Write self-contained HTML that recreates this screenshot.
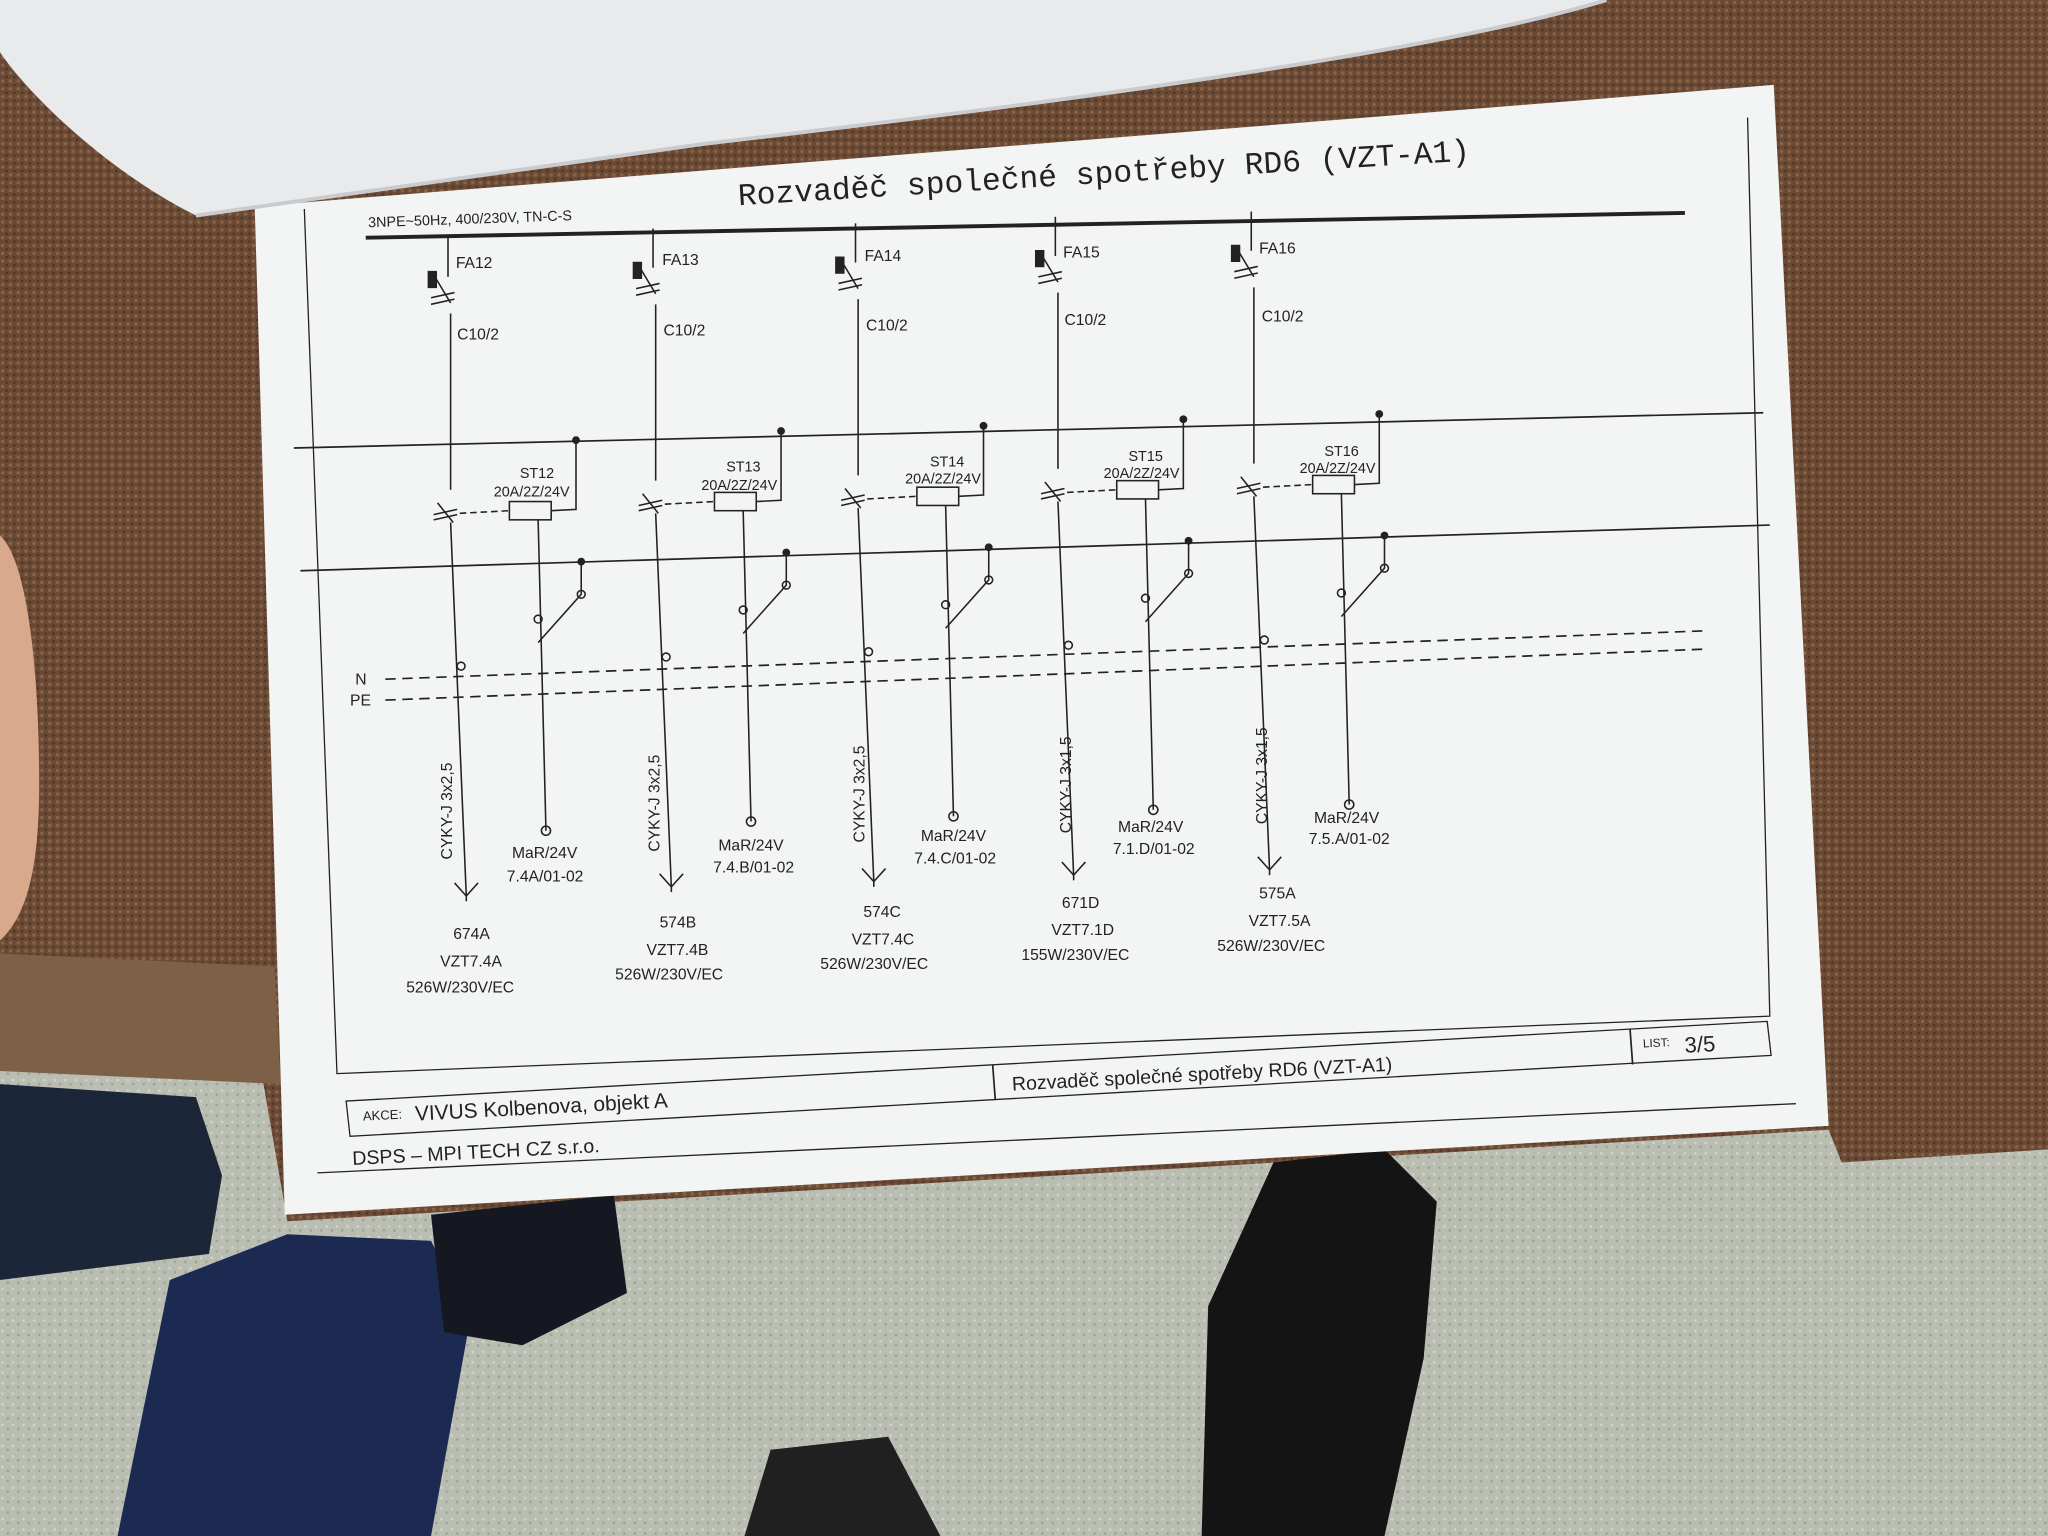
<!DOCTYPE html>
<html><head><meta charset="utf-8"><style>
html,body{margin:0;padding:0;width:2048px;height:1536px;overflow:hidden;background:#6a4a36}
svg{display:block}
text{font-family:"Liberation Sans",sans-serif;fill:#222}
</style></head><body>
<svg width="2048" height="1536" viewBox="0 0 1568 1176" preserveAspectRatio="none" xmlns="http://www.w3.org/2000/svg">
<defs>
<pattern id="carpet" width="6" height="6" patternUnits="userSpaceOnUse">
<rect width="6" height="6" fill="#6b4a35"/><circle cx="2" cy="2" r="1.3" fill="#8a6448"/><circle cx="5" cy="5" r="1" fill="#4e3424"/>
</pattern>
<pattern id="tile" width="8" height="8" patternUnits="userSpaceOnUse">
<rect width="8" height="8" fill="#b9bdb2"/><circle cx="2" cy="3" r="1" fill="#d2d5cc"/><circle cx="6" cy="6" r="1" fill="#9ea295"/>
</pattern>
</defs>
<rect width="1568" height="1176" fill="url(#carpet)"/>
<polygon points="0,820 200,820 220,935 1400,865 1410,890 1568,880 1568,1176 0,1176" fill="url(#tile)"/>
<polygon points="0,730 210,740 215,830 0,820" fill="#7d6048"/>
<path d="M0,830 L150,840 L170,900 L160,960 L0,980 Z" fill="#1b2638"/>
<path d="M90,1176 L130,980 L220,945 L330,950 L360,1010 L330,1176 Z" fill="#1c2a52"/>
<path d="M330,930 L470,915 L480,990 L400,1030 L340,1020 Z" fill="#151820"/>
<path d="M920,1176 L925,1000 L975,890 L1060,880 L1100,920 L1090,1040 L1060,1176 Z" fill="#141414"/>
<path d="M570,1176 L590,1110 L680,1100 L720,1176 Z" fill="#202020"/>
<path d="M0,410 C22,430 30,520 30,600 C30,660 22,700 0,720 Z" fill="#d9a98c"/>
<polygon points="195,158 1358,65 1400,862 218,930" fill="#f3f4f4"/>
<path d="M0,0 L1230,0 C1100,40 800,80 540,110 C400,130 250,150 150,165 C80,130 20,70 0,40 Z" fill="#e9eaec"/>
<path d="M150,165 C250,150 400,130 540,110 C800,80 1100,40 1230,0" fill="none" stroke="#c9cbcf" stroke-width="3"/>
<g stroke="#222" fill="none" stroke-width="1.3">
<polyline points="233,160 258,822 1355,778 1338,90" stroke-width="1"/>
<polyline points="243,898 1375,845" stroke-width="1"/>
<polygon points="265,843 1353,782 1356,808 268,870" stroke-width="1"/>
<line x1="760" y1="815" x2="762" y2="842"/>
<line x1="1248" y1="788" x2="1250" y2="815"/>
<line x1="280" y1="182" x2="1290" y2="163" stroke-width="3"/>
<line x1="225" y1="343" x2="1350" y2="316"/>
<line x1="230" y1="437" x2="1355" y2="402"/>
<line x1="295" y1="520" x2="1305" y2="483" stroke-dasharray="8,5"/>
<line x1="295" y1="536" x2="1305" y2="497" stroke-dasharray="8,5"/>
</g>
<text x="845" y="140" font-size="24" text-anchor="middle" transform="rotate(-3.5 845 130)" style="font-family:'Liberation Mono',monospace">Rozvaděč společné spotřeby RD6 (VZT-A1)</text>
<text x="282" y="174" font-size="11" transform="rotate(-2 282 174)">3NPE~50Hz, 400/230V, TN-C-S</text>
<text x="272" y="524" font-size="12">N</text>
<text x="268" y="540" font-size="12">PE</text>
<text x="278" y="858" font-size="10" transform="rotate(-3 278 858)">AKCE:</text>
<text x="318" y="858" font-size="16" transform="rotate(-3 318 858)">VIVUS Kolbenova, objekt A</text>
<text x="775" y="835" font-size="15" transform="rotate(-3 775 835)">Rozvaděč společné spotřeby RD6 (VZT-A1)</text>
<text x="1258" y="802" font-size="9" transform="rotate(-3 1258 802)">LIST:</text>
<text x="1290" y="806" font-size="17" transform="rotate(-3 1290 806)">3/5</text>
<text x="270" y="892" font-size="15" transform="rotate(-3 270 892)">DSPS – MPI TECH CZ s.r.o.</text>
<g id="cols">
<g stroke="#222" fill="none" stroke-width="1.2">
<line x1="343" y1="182" x2="343" y2="212"/><line x1="333" y1="212" x2="345" y2="232"/><line x1="345" y1="240" x2="345" y2="375"/>
<rect x="328" y="208" width="6" height="12" fill="#222"/>
<line x1="330" y1="228" x2="348" y2="224"/><line x1="330" y1="233" x2="348" y2="229"/>
<line x1="335" y1="385" x2="347" y2="400"/><line x1="345" y1="400" x2="357" y2="686"/>
<line x1="332" y1="394" x2="350" y2="390"/><line x1="332" y1="398" x2="350" y2="394"/>
<line x1="352" y1="393" x2="390" y2="391" stroke-dasharray="5,3"/>
<rect x="390" y="384" width="32" height="14"/>
<polyline points="422,391 441,390 441,337"/>
<line x1="412" y1="398" x2="418" y2="636"/>
<polyline points="445,430 445,455 412,492"/>
<circle cx="418" cy="636" r="3.5"/><circle cx="445" cy="455" r="3"/><circle cx="412" cy="474" r="3"/><circle cx="353" cy="510" r="3"/>
<polyline points="348,676 357,686 366,676"/><line x1="357" y1="686" x2="357" y2="690"/>
</g>
<circle cx="441" cy="337" r="3" fill="#222"/><circle cx="445" cy="430" r="3" fill="#222"/>
</g>
<use href="#cols" transform="translate(157,-7)"/>
<use href="#cols" transform="translate(312,-11)"/>
<use href="#cols" transform="translate(465,-16)"/>
<use href="#cols" transform="translate(615,-20)"/>
<g font-size="12">
<text x="349" y="205">FA12</text><text x="350" y="260">C10/2</text>
<text x="398" y="366" font-size="11">ST12</text><text x="378" y="380" font-size="11">20A/2Z/24V</text>
<text x="392" y="657">MaR/24V</text><text x="388" y="675">7.4A/01-02</text>
<text x="346" y="658" transform="rotate(-90 346 658)">CYKY-J 3x2,5</text>
<text x="347" y="719">674A</text><text x="337" y="740">VZT7.4A</text><text x="311" y="760">526W/230V/EC</text>
<text x="507" y="203">FA13</text><text x="508" y="257">C10/2</text>
<text x="556" y="361" font-size="11">ST13</text><text x="537" y="375" font-size="11">20A/2Z/24V</text>
<text x="550" y="651">MaR/24V</text><text x="546" y="668">7.4.B/01-02</text>
<text x="505" y="652" transform="rotate(-90 505 652)">CYKY-J 3x2,5</text>
<text x="505" y="710">574B</text><text x="495" y="731">VZT7.4B</text><text x="471" y="750">526W/230V/EC</text>
<text x="662" y="200">FA14</text><text x="663" y="253">C10/2</text>
<text x="712" y="357" font-size="11">ST14</text><text x="693" y="370" font-size="11">20A/2Z/24V</text>
<text x="705" y="644">MaR/24V</text><text x="700" y="661">7.4.C/01-02</text>
<text x="662" y="645" transform="rotate(-90 662 645)">CYKY-J 3x2,5</text>
<text x="661" y="702">574C</text><text x="652" y="723">VZT7.4C</text><text x="628" y="742">526W/230V/EC</text>
<text x="814" y="197">FA15</text><text x="815" y="249">C10/2</text>
<text x="864" y="353" font-size="11">ST15</text><text x="845" y="366" font-size="11">20A/2Z/24V</text>
<text x="856" y="637">MaR/24V</text><text x="852" y="654">7.1.D/01-02</text>
<text x="820" y="638" transform="rotate(-90 820 638)">CYKY-J 3x1,5</text>
<text x="813" y="695">671D</text><text x="805" y="716">VZT7.1D</text><text x="782" y="735">155W/230V/EC</text>
<text x="964" y="194">FA16</text><text x="966" y="246">C10/2</text>
<text x="1014" y="349" font-size="11">ST16</text><text x="995" y="362" font-size="11">20A/2Z/24V</text>
<text x="1006" y="630">MaR/24V</text><text x="1002" y="646">7.5.A/01-02</text>
<text x="970" y="631" transform="rotate(-90 970 631)">CYKY-J 3x1,5</text>
<text x="964" y="688">575A</text><text x="956" y="709">VZT7.5A</text><text x="932" y="728">526W/230V/EC</text>
</g>
</svg>
</body></html>
